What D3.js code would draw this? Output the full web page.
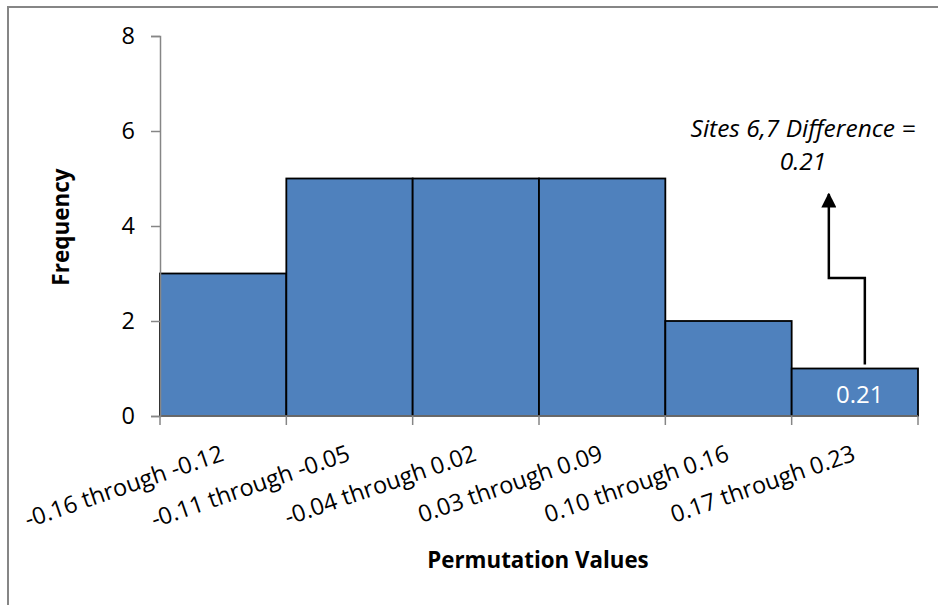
<!DOCTYPE html>
<html>
<head>
<meta charset="utf-8">
<script src="https://cdn.jsdelivr.net/npm/d3@7"></script>
<style>
  html, body { margin: 0; padding: 0; background: #fff; }
  svg { display: block; }
  text { font-family: "Open Sans", "Lato", sans-serif; }
</style>
</head>
<body>
<svg id="chart" width="938" height="605"></svg>
<script>
// Histogram of permutation values
const categories = [
  "-0.16 through -0.12",
  "-0.11 through -0.05",
  "-0.04 through 0.02",
  "0.03 through 0.09",
  "0.10 through 0.16",
  "0.17 through 0.23"
];
const frequencies = [3, 5, 5, 5, 2, 1];
const yTicks = [0, 2, 4, 6, 8];
const observedValue = 0.21;
const observedBin = "0.17 through 0.23";
const annotationLines = ["Sites 6,7 Difference =", "0.21"];

const svg = d3.select("#chart");
const W = 938, H = 605;
const plot = { left: 160, right: 918, top: 36, bottom: 416 };

// outer frame
svg.append("rect")
  .attr("x", 8).attr("y", 7)
  .attr("width", W + 10).attr("height", H + 10)
  .attr("fill", "none").attr("stroke", "#868686").attr("stroke-width", 2);

const x = d3.scaleBand().domain(categories).range([plot.left, plot.right]).padding(0);
const y = d3.scaleLinear().domain([0, 8]).range([plot.bottom, plot.top]);

// bars
svg.append("g").selectAll("rect")
  .data(categories.map((c, i) => ({ c, v: frequencies[i] })))
  .join("rect")
  .attr("x", d => x(d.c))
  .attr("y", d => y(d.v))
  .attr("width", x.bandwidth())
  .attr("height", d => y(0) - y(d.v))
  .attr("fill", "#4F81BD")
  .attr("stroke", "#000")
  .attr("stroke-width", 1.8);

// y axis
const yAxis = svg.append("g")
  .attr("transform", `translate(${plot.left},0)`)
  .call(d3.axisLeft(y).tickValues(yTicks).tickSize(9).tickPadding(16).tickFormat(d3.format("d")));
yAxis.select(".domain").attr("stroke", "#868686").attr("stroke-width", 1.5);
yAxis.selectAll(".tick line").attr("stroke", "#868686").attr("stroke-width", 1.5);
yAxis.selectAll(".tick text")
  .attr("font-size", 23.5).attr("fill", "#000")
  .style("font-family", "'Open Sans', sans-serif");

// x axis: baseline and ticks at bin edges
const xAxisG = svg.append("g");
xAxisG.append("line")
  .attr("x1", plot.left).attr("x2", plot.right)
  .attr("y1", plot.bottom).attr("y2", plot.bottom)
  .attr("stroke", "#868686").attr("stroke-width", 1.5);
const edges = categories.map(c => x(c)).concat([x(categories[categories.length - 1]) + x.bandwidth()]);
xAxisG.selectAll("line.tk").data(edges).join("line")
  .attr("class", "tk")
  .attr("x1", d => d).attr("x2", d => d)
  .attr("y1", plot.bottom).attr("y2", plot.bottom + 9)
  .attr("stroke", "#868686").attr("stroke-width", 1.5);

// rotated category labels ending at the bin centre
xAxisG.selectAll("text").data(categories).join("text")
  .attr("transform", d => `translate(${x(d) + x.bandwidth() / 2 + 2},${plot.bottom + 44}) rotate(-19)`)
  .attr("text-anchor", "end")
  .attr("font-size", 23.5)
  .attr("fill", "#000")
  .text(d => d);

// axis titles
svg.append("text")
  .attr("transform", `translate(69,227) rotate(-90)`)
  .attr("text-anchor", "middle")
  .attr("font-size", 22.5).attr("font-weight", "bold")
  .text("Frequency");
svg.append("text")
  .attr("x", 538).attr("y", 568)
  .attr("text-anchor", "middle")
  .attr("font-size", 22.3).attr("font-weight", "bold")
  .text("Permutation Values");

// value label inside the observed bin
const obsIdx = categories.indexOf(observedBin);
svg.append("text")
  .attr("x", x(observedBin) + x.bandwidth() / 2 + 5)
  .attr("y", y(frequencies[obsIdx]) + 34)
  .attr("text-anchor", "middle")
  .attr("font-size", 24)
  .attr("fill", "#fff")
  .text(d3.format(".2f")(observedValue));

// annotation arrow
svg.append("defs").append("marker")
  .attr("id", "arrow")
  .attr("viewBox", "0 0 10 10")
  .attr("refX", 9).attr("refY", 5)
  .attr("markerWidth", 6).attr("markerHeight", 6)
  .attr("markerUnits", "strokeWidth")
  .attr("orient", "auto")
  .append("path").attr("d", "M0,0 L10,5 L0,10 Z").attr("fill", "#000");

const ax1 = x(observedBin) + x.bandwidth() / 2 + 10;
const ax2 = ax1 - 36;
const yStart = y(frequencies[obsIdx]) - 4;
svg.append("path")
  .attr("d", `M${ax1},${yStart} V278 H${ax2} V194`)
  .attr("fill", "none")
  .attr("stroke", "#000")
  .attr("stroke-width", 2.5)
  .attr("marker-end", "url(#arrow)");

const ann = svg.append("text")
  .attr("text-anchor", "middle")
  .attr("font-size", 24.5)
  .attr("font-style", "italic")
  .attr("fill", "#000");
ann.selectAll("tspan").data(annotationLines).join("tspan")
  .attr("x", 803)
  .attr("y", (d, i) => 137 + i * 33)
  .text(d => d);
</script>
</body>
</html>
